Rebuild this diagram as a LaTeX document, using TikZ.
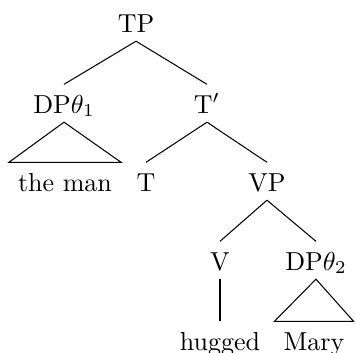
\documentclass[tikz,border=0pt]{standalone}
\begin{document}
\begin{tikzpicture}[x=0.3846pt,y=-0.3846pt]

	\tikzstyle{category} = [anchor=base, inner sep=3.33pt, text height=7.5pt, text depth=0pt]
	
	\tikzstyle{branches} = [thin]
	
	\useasboundingbox (0,0) rectangle (356,353);
	
	\node[category] at (136,32) (tp) {TP};
	
	\node[category] at (64,113) (dp1) {DP$\theta_1$};
	\node[category] at (207,113) (tbar) {T$'$};
	
	\node[category] at (65,191) (theman) {the man};
	\node[category] at (146,191) (t) {T};
	\node[category] at (267,191) (vp) {VP};
	
	\node[category] at (220,270) (v) {V};
	\node[category] at (316,270) (dp2) {DP$\theta_2$};
	
	\node[category] at (220,350) (hugged) {hugged};
	\node[category] at (314,350) (mary) {Mary};
	
	\draw[branches] (tp.south) -- (dp1.north);
	\draw[branches] (tp.south) -- (tbar.north);
	
	\draw[branches] (dp1.south) -- (theman.north west) -- (theman.north east) -- cycle;
	
	\draw[branches] (tbar.south) -- (t.north);
	\draw[branches] (tbar.south) -- (vp.north);
	
	\draw[branches] (vp.south) -- (v.north);
	\draw[branches] (vp.south) -- (dp2.north);
	
	\draw[branches] (v.south) -- (hugged.north);
	\draw[branches] (dp2.south) -- (mary.north west) -- (mary.north east) -- cycle;
\end{tikzpicture}
\end{document}
